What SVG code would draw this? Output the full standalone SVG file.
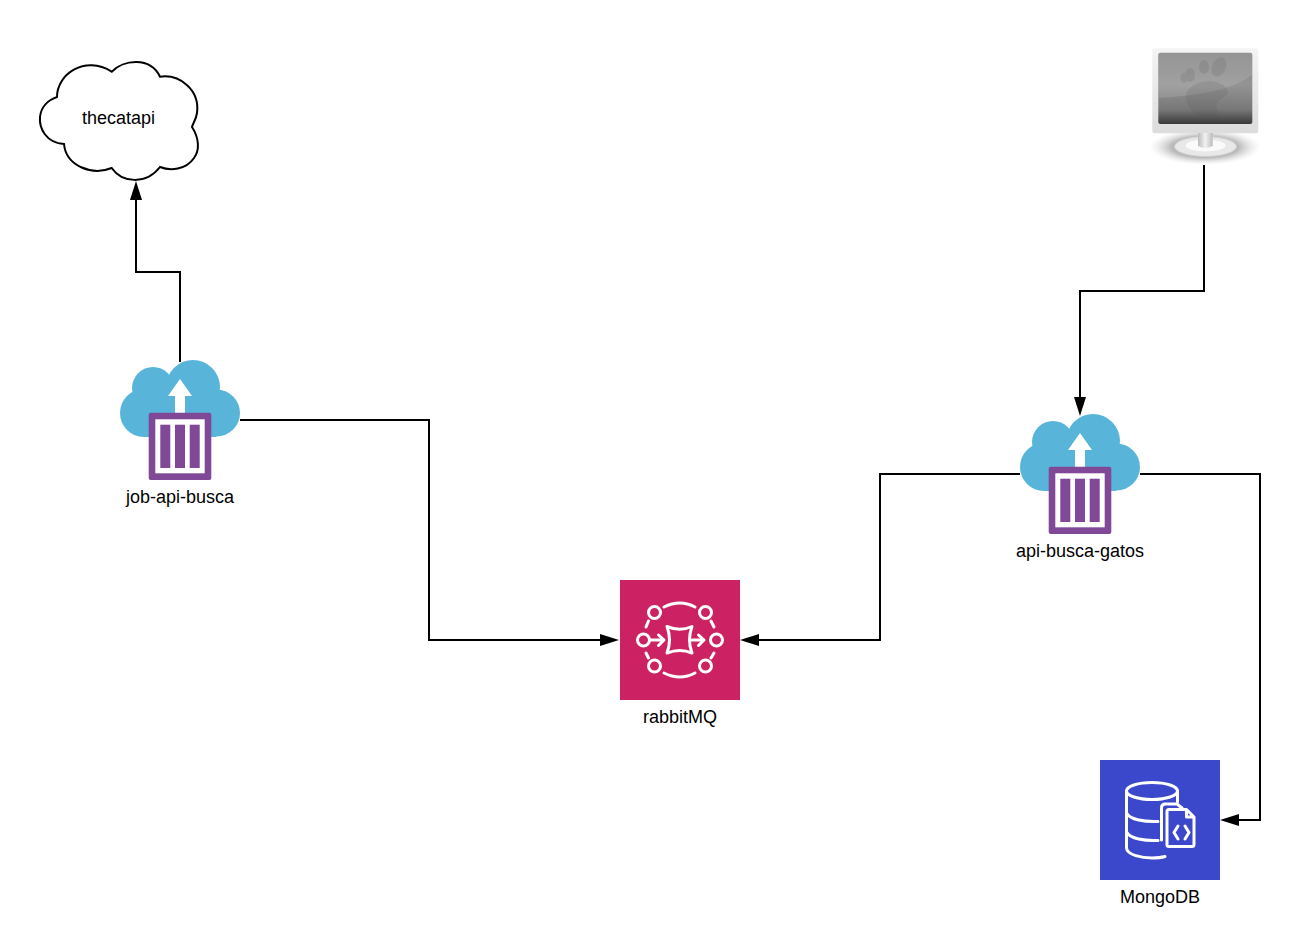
<svg xmlns="http://www.w3.org/2000/svg" width="1308" height="950" viewBox="0 0 1308 950">
<style>
text{font-family:"Liberation Sans",Arial,sans-serif;font-size:18px;fill:#000;text-anchor:middle}
.conn{fill:none;stroke:#000;stroke-width:2}
.wl{fill:none;stroke:#fff;stroke-width:3;stroke-linecap:round;stroke-linejoin:round}
.blue{fill:#59B4D9}.purple{fill:#804998}.wh{fill:#fff}
</style>
<defs>
<marker id="ah" markerUnits="userSpaceOnUse" markerWidth="19" markerHeight="12" refX="3" refY="6" orient="auto"><path d="M0,0L19,6L0,12z" fill="#000"/></marker>
<linearGradient id="scr" x1="0" y1="0" x2="0" y2="1"><stop offset="0" stop-color="#868686"/><stop offset=".45" stop-color="#949494"/><stop offset=".8" stop-color="#777"/><stop offset="1" stop-color="#3a3a3a"/></linearGradient>
<linearGradient id="bez" x1="0" y1="0" x2="0" y2="1"><stop offset="0" stop-color="#f4f4f4"/><stop offset="1" stop-color="#dcdcdc"/></linearGradient>
<linearGradient id="neck" x1="0" y1="0" x2="1" y2="0"><stop offset="0" stop-color="#bbb"/><stop offset=".5" stop-color="#f2f2f2"/><stop offset="1" stop-color="#bbb"/></linearGradient>
<radialGradient id="shad"><stop offset="0" stop-color="#777"/><stop offset=".6" stop-color="#aaa" stop-opacity=".8"/><stop offset="1" stop-color="#ddd" stop-opacity="0"/></radialGradient>
<filter id="sb" x="-10%" y="-10%" width="120%" height="120%"><feGaussianBlur stdDeviation=".7"/></filter>
<g id="azure">
<circle class="blue" cx="144" cy="413" r="24"/><circle class="blue" cx="153" cy="388" r="21"/><circle class="blue" cx="193" cy="387" r="27"/><circle class="blue" cx="216.500" cy="413" r="23.500"/><rect class="blue" x="144" y="395" width="72" height="42"/>
<path class="wh" d="M180,379L192,396H185V414H175V396H168z"/>
<rect class="purple" x="148.700" y="412.700" width="62.600" height="67.300" rx="2"/>
<rect class="wh" x="155.300" y="419.300" width="49.400" height="54"/>
<rect class="purple" x="160.300" y="424.700" width="10" height="43.300"/><rect class="purple" x="175" y="424.700" width="10" height="43.300"/><rect class="purple" x="189.700" y="424.700" width="10" height="43.300"/>
</g>
</defs>
<rect width="1308" height="950" fill="#fff"/>
<g id="connectors">
<path class="conn" marker-end="url(#ah)" d="M180,362V272H136V197"/>
<path class="conn" marker-end="url(#ah)" d="M240,420H429V640H603"/>
<path class="conn" marker-end="url(#ah)" d="M1020,474H880V640H756"/>
<path class="conn" marker-end="url(#ah)" d="M1140,474H1260V820H1236"/>
<path class="conn" marker-end="url(#ah)" d="M1204,165V291H1080V400"/>
</g>
<g id="thecatapi">
<path d="M111.700,71.700C123,60 150,56 160,76.700C180,74 200,90 197,113C196,120 193,123 192,127C199,138 200,150 194,158C186,170 170,171 160,167C146,185 122,183 111.700,168C92,176 66,166 64,144C46,143 39,128 40,117C41,107 48,100 57,97C57,74 85,55 111.700,71.700Z" fill="#fff" stroke="#000" stroke-width="2"/>
<text x="118.500" y="124">thecatapi</text>
</g>
<g id="job-api-busca">
<use href="#azure"/>
<text x="180" y="503">job-api-busca</text>
</g>
<g id="api-busca-gatos">
<use href="#azure" transform="translate(900,54)"/>
<text x="1080" y="557">api-busca-gatos</text>
</g>
<g id="rabbitMQ">
<rect x="620" y="580" width="120" height="120" fill="#CC2264"/>
<g class="wl">
<circle cx="654.500" cy="612.500" r="6"/><circle cx="705.500" cy="612.500" r="6"/><circle cx="643.500" cy="640" r="6"/><circle cx="716.500" cy="640" r="6"/><circle cx="654.500" cy="666" r="6"/><circle cx="705.500" cy="666" r="6"/>
<path d="M664,607Q680,599 695,607M664,673Q680,681 695,673M648.500,621L646,627M646,653L648.500,658M711,621L714,627M714,653L711,658"/>
<path d="M650,640H663M658.500,635L664,640L658.500,645.500M692,640H704M698.500,635L704,640L698.500,645.500"/>
<path d="M667,626.500Q680,632 692,626.500Q687,640 692,653Q680,648 667,653Q672,640 667,626.500Z"/>
</g>
<text x="680" y="723">rabbitMQ</text>
</g>
<g id="MongoDB">
<rect x="1100" y="760" width="120" height="120" fill="#3B48CC"/>
<g class="wl">
<ellipse cx="1152" cy="791" rx="25.500" ry="8.500"/>
<path d="M1126.500,791V848C1127,855 1142,858 1152,858C1156,858 1160,858 1165,856.500M1177.500,791V802M1126.500,813C1130,820 1145,822 1158,821.500M1126.500,832C1130,839 1145,841 1158,840.500"/>
<path d="M1161.500,840V808Q1161.500,804 1165,804H1177L1182,808"/>
<path d="M1169,809.500H1186.500L1194,817V844.500Q1194,846.500 1192,846.500H1169Q1167,846.500 1167,844.500V811.500Q1167,809.500 1169,809.500ZM1186.500,809.500V817H1194"/>
<path d="M1178,826L1174,832.500L1178,839M1185,826L1189,832.500L1185,839"/>
</g>
<text x="1160" y="903">MongoDB</text>
</g>
<g id="monitor">
<ellipse cx="1205" cy="147" rx="56" ry="18" fill="url(#shad)"/>
<g filter="url(#sb)">
<rect x="1152.300" y="48.300" width="106" height="85" rx="2.500" fill="url(#bez)"/>
<rect x="1158.300" y="52.700" width="94" height="71.300" rx="2" fill="url(#scr)"/>
<path d="M1159,53H1252V75C1230,92 1190,96 1159,98Z" fill="#fff" opacity=".12"/>
<g fill="#555" opacity=".16">
<ellipse cx="1190" cy="75" rx="5" ry="7"/><ellipse cx="1204" cy="67" rx="5" ry="7"/><ellipse cx="1219" cy="67" rx="7" ry="10" transform="rotate(25 1219 67)"/><ellipse cx="1184" cy="78" rx="3.500" ry="5"/>
<path d="M1188,90C1200,76 1228,80 1228,93C1224,100 1212,100 1218,112C1212,122 1196,118 1190,108C1185,102 1185,95 1188,90Z"/>
</g>
<ellipse cx="1205.500" cy="146.500" rx="31" ry="10" fill="#e8e8e8" stroke="#cfcfcf"/>
<ellipse cx="1205.500" cy="145.500" rx="20" ry="6" fill="#fafafa"/>
<path d="M1198,133H1212.700V146Q1205,150 1198,146Z" fill="url(#neck)"/>
</g>
</g>
</svg>
